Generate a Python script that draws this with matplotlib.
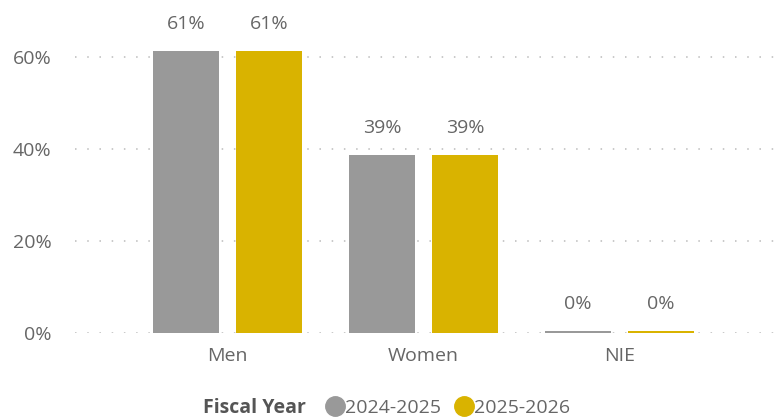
import matplotlib
matplotlib.use("Agg")
import matplotlib.pyplot as plt
import numpy as np
from matplotlib.lines import Line2D

plt.rcParams['font.family'] = ['Open Sans', 'DejaVu Sans']

categories = ["Men", "Women", "NIE"]
series_names = ["2024-2025", "2025-2026"]
values_2024 = [61.3, 38.7, 0.4]
values_2025 = [61.3, 38.7, 0.4]
yticks = [0, 20, 40, 60]
colors = ["#999999", "#D9B300"]
text_color = "#666666"
fs = 14

fig = plt.figure(figsize=(7.74, 4.18), dpi=100)
ax = fig.add_axes([75/774, 1-333/418, 1-75/774, (333-29.4)/418])

x = np.arange(len(categories))
w = 0.337
off = 0.212
for vals, c, o in [(values_2024, colors[0], -off), (values_2025, colors[1], off)]:
    bars = ax.bar(x + o, vals, width=w, color=c, zorder=3)
    for b, v in zip(bars, vals):
        ax.annotate(f"{v:.0f}%", (b.get_x() + b.get_width()/2, b.get_height()),
                    xytext=(0, 13), textcoords="offset points", ha="center", va="bottom",
                    fontsize=fs, color=text_color, annotation_clip=False)

ax.set_xlim(-0.778, 2.788)
ax.set_ylim(0, 66)
ax.set_yticks(yticks)
ax.set_yticklabels([f"{t}%" for t in yticks])
ax.set_xticks(x)
ax.set_xticklabels(categories)
ax.tick_params(axis="both", length=0, labelsize=fs, labelcolor=text_color)
ax.tick_params(axis="y", pad=17)
ax.tick_params(axis="x", pad=10)
for s in ax.spines.values():
    s.set_visible(False)
ax.grid(axis="y", color="#BBBBBB", linestyle=(0, (1, 7)), linewidth=1.1, zorder=0)
ax.set_axisbelow(True)

handles = [Line2D([0], [0], marker="o", linestyle="", markersize=14, color=c) for c in colors]
fig.text(306/774, 1-408/418, "Fiscal Year", ha="right", va="center", fontsize=fs,
         fontweight="bold", color="#555555")
leg = fig.legend(handles, series_names, loc="center left", bbox_to_anchor=(320/774, 1-408/418),
                 ncol=2, frameon=False, handletextpad=-0.2, columnspacing=0.4,
                 handlelength=1.5, fontsize=fs, borderpad=0, borderaxespad=0)
for t in leg.get_texts():
    t.set_color(text_color)

fig.savefig("out.png", dpi=100)
